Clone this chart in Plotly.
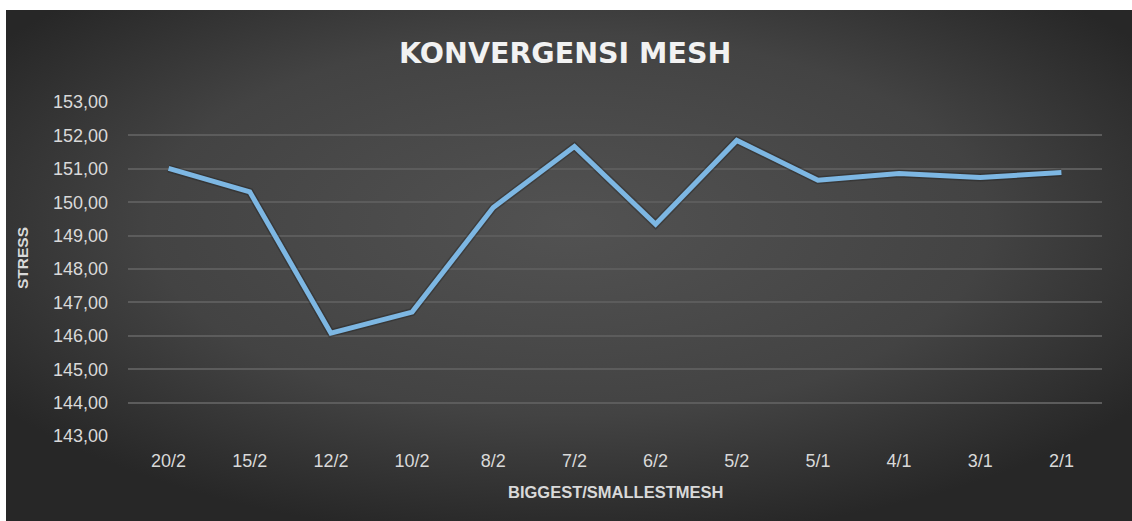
import base64
import plotly.graph_objects as go

categories = ["20/2", "15/2", "12/2", "10/2", "8/2", "7/2", "6/2", "5/2", "5/1", "4/1", "3/1", "2/1"]
stress = [151.01, 150.31, 146.08, 146.71, 149.84, 151.67, 149.34, 151.85, 150.66, 150.86, 150.74, 150.89]
y_ticks = [143, 144, 145, 146, 147, 148, 149, 150, 151, 152, 153]

title_text = "KONVERGENSI MESH"
x_title = "BIGGEST/SMALLESTMESH"
y_title = "STRESS"

W, H = 1132, 521
L, R, T, B = 128, 30, 102, 85
pw = W - L - R
ph = H - T - B

def px_x(p):
    return (p - L) / pw

def px_y(p):
    return (H - B - p) / ph

svg = (
    '<svg xmlns="http://www.w3.org/2000/svg" width="1126" height="511" viewBox="0 0 1126 511" preserveAspectRatio="none">'
    '<defs><radialGradient id="g" cx="0.5" cy="0.42" r="0.62" gradientUnits="objectBoundingBox">'
    '<stop offset="0" stop-color="#525252"/>'
    '<stop offset="0.6" stop-color="#434343"/>'
    '<stop offset="1" stop-color="#272727"/>'
    '</radialGradient></defs>'
    '<rect x="0" y="0" width="1126" height="511" fill="url(#g)"/></svg>'
)
bg_src = "data:image/svg+xml;base64," + base64.b64encode(svg.encode()).decode()

fig = go.Figure()
fig.add_trace(go.Scatter(
    x=categories, y=stress, mode="lines",
    line=dict(color="rgba(0,0,0,0.22)", width=8),
    hoverinfo="skip", showlegend=False,
))
fig.add_trace(go.Scatter(
    x=categories, y=stress, mode="lines",
    line=dict(color="#7db7e3", width=5),
    showlegend=False,
))

fig.add_layout_image(dict(
    source=bg_src, xref="paper", yref="paper",
    x=px_x(6), y=px_y(10), sizex=px_x(W) - px_x(6), sizey=px_y(10) - px_y(H),
    xanchor="left", yanchor="top", sizing="stretch", layer="below",
))

fig.update_layout(
    width=W, height=H,
    margin=dict(l=L, r=R, t=T, b=B, pad=0),
    paper_bgcolor="white",
    plot_bgcolor="rgba(0,0,0,0)",
    separators=",.",
    showlegend=False,
    font=dict(family="Liberation Sans, Arial, sans-serif", color="#d9d9d9"),
    xaxis=dict(
        type="category", showgrid=False, zeroline=False, showline=False,
        ticks="", tickfont=dict(size=18, color="#d9d9d9"),
        ticklabelstandoff=12, range=[-0.5, len(categories) - 0.5],
    ),
    yaxis=dict(
        range=[143, 153], tickvals=y_ticks, tickformat=".2f",
        showgrid=True, gridcolor="#5c5c5c", gridwidth=1.5,
        zeroline=False, showline=False, ticks="",
        tickfont=dict(size=18, color="#d9d9d9"), ticklabelstandoff=19,
    ),
    annotations=[
        dict(text="<b>" + title_text + "</b>", xref="paper", yref="paper",
             x=px_x(565), y=px_y(53), xanchor="center", yanchor="middle",
             showarrow=False, font=dict(family="DejaVu Sans, sans-serif", size=28.5, color="#f2f2f2")),
        dict(text="<b>" + x_title + "</b>", xref="paper", yref="paper",
             x=px_x(615), y=px_y(492), xanchor="center", yanchor="middle",
             showarrow=False, font=dict(size=16.5, color="#d9d9d9")),
        dict(text="<b>" + y_title + "</b>", xref="paper", yref="paper",
             x=px_x(22), y=px_y(258), xanchor="center", yanchor="middle", textangle=-90,
             showarrow=False, font=dict(size=15.5, color="#d9d9d9")),
    ],
)

fig.write_html(
    "out.html",
    config={"displayModeBar": False},
    post_script="document.body.style.margin='0';document.body.style.overflow='hidden';",
)
